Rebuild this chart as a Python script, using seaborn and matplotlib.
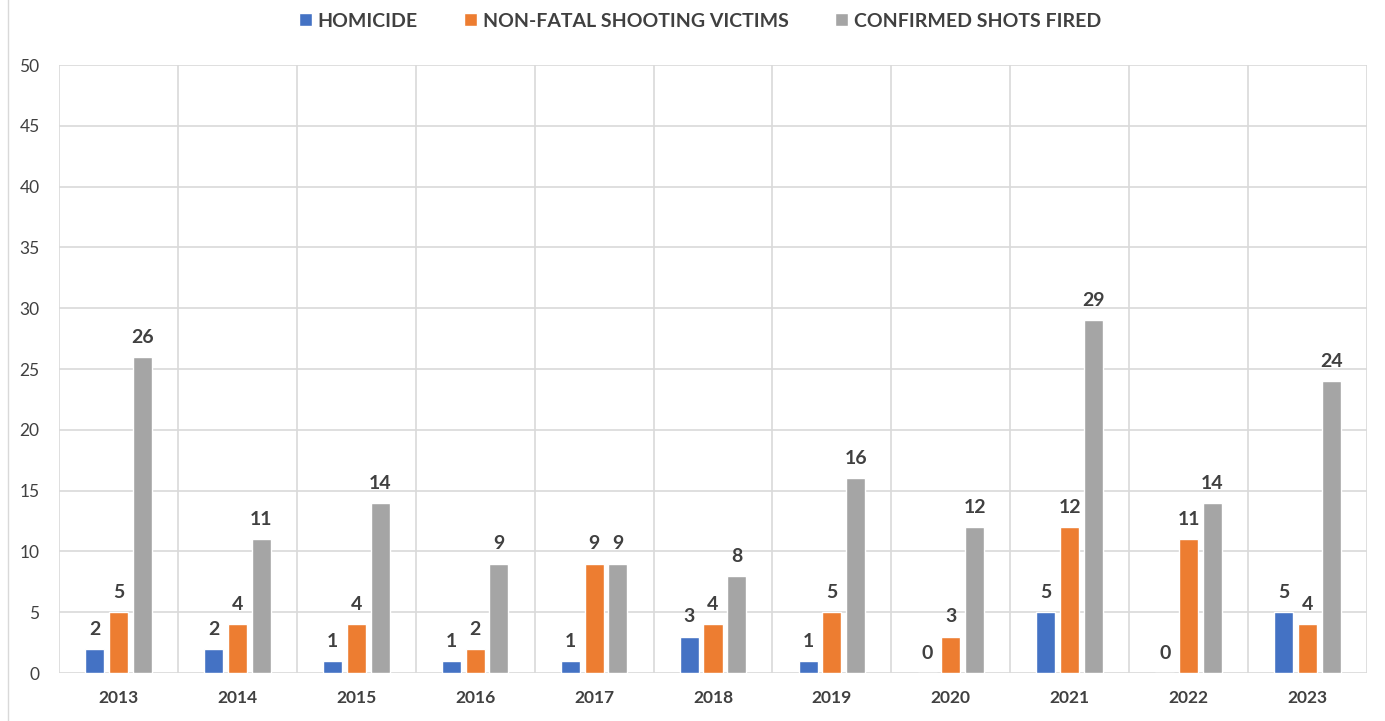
import pandas as pd
import matplotlib.pyplot as plt
import seaborn as sns
from matplotlib.patches import Rectangle

years = ["2013", "2014", "2015", "2016", "2017", "2018", "2019", "2020", "2021", "2022", "2023"]
homicide = [2, 2, 1, 1, 1, 3, 1, 0, 5, 0, 5]
nonfatal = [5, 4, 4, 2, 9, 4, 5, 3, 12, 11, 4]
shots_fired = [26, 11, 14, 9, 9, 8, 16, 12, 29, 14, 24]
series = ["HOMICIDE", "NON-FATAL SHOOTING VICTIMS", "CONFIRMED SHOTS FIRED"]
colors = ["#4472C4", "#ED7D31", "#A5A5A5"]

df = pd.DataFrame({"year": years, series[0]: homicide,
                   series[1]: nonfatal, series[2]: shots_fired})
df = df.melt(id_vars="year", var_name="series", value_name="count")

sns.set_style("white")
plt.rcParams['font.family'] = ['Lato', 'DejaVu Sans']

fig = plt.figure(figsize=(13.85, 7.21), dpi=100)
ax = fig.add_axes([59 / 1385, 1 - 673 / 721, 1308 / 1385, 608 / 721])

sns.barplot(data=df, x="year", y="count", hue="series", hue_order=series,
            palette=colors, saturation=1, width=0.6, gap=0.2, ax=ax, legend=True)

ax.set_ylim(0, 50)
ax.set_xlim(-0.5, len(years) - 0.5)
ax.set_yticks(range(0, 51, 5))
ax.set_xlabel("")
ax.set_ylabel("")
ax.yaxis.grid(True, color="#d9d9d9", lw=1.2)
for i in range(len(years) + 1):
    ax.axvline(i - 0.5, color="#d9d9d9", lw=1.2, zorder=0)
ax.set_axisbelow(True)
for s in ax.spines.values():
    s.set_visible(False)
ax.tick_params(axis="y", length=0, labelsize=12.5, labelcolor="#404040", pad=14)
ax.tick_params(axis="x", length=0, labelsize=12.5, labelcolor="#404040", pad=12)
for t in ax.get_xticklabels():
    t.set_fontweight("bold")

for cont in ax.containers:
    ax.bar_label(cont, fmt="%d", padding=8, fontsize=14, fontweight="bold", color="#404040")

handles, labels = ax.get_legend_handles_labels()
ax.legend(handles, labels, loc="upper center", bbox_to_anchor=(0.49, 1.115), ncol=3,
          frameon=False, handlelength=0.65, handleheight=0.65, handletextpad=0.3,
          columnspacing=2.4, prop={"size": 14, "weight": "bold"},
          labelcolor="#404040")

fig.patches.append(Rectangle((8 / 1385, -0.01), 1.0, 1.05, transform=fig.transFigure,
                             fill=False, edgecolor="#d9d9d9", lw=1))

fig.savefig("out.png", dpi=100)
